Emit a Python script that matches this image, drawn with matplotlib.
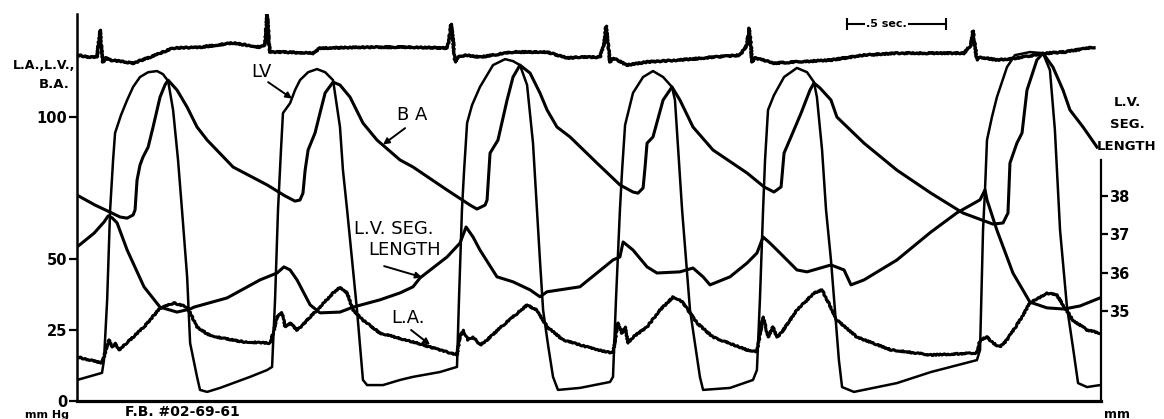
import matplotlib
matplotlib.use("Agg")
import matplotlib.pyplot as plt

# Time axis in seconds from the start of the strip, pressures in mm Hg,
# segment length in mm on the right-hand scale.

ecg_t = [0.000, 0.066, 0.101, 0.111, 0.116, 0.121, 0.131, 0.146, 0.167, 0.283,
         0.369, 0.485, 0.621, 0.788, 0.924, 0.949, 0.960, 0.970, 0.975, 1.040,
         1.192, 1.227, 1.465, 1.697, 1.869, 1.879, 1.889, 1.899, 1.909, 1.924,
         1.970, 2.035, 2.202, 2.374, 2.475, 2.540, 2.641, 2.662, 2.672, 2.682,
         2.692, 2.707, 2.778, 2.879, 3.045, 3.212, 3.348, 3.384, 3.394, 3.404,
         3.409, 3.424, 3.465, 3.520, 3.636, 3.808, 3.975, 4.141, 4.313, 4.480,
         4.515, 4.525, 4.535, 4.545, 4.561, 4.646, 4.747, 4.899, 4.985, 5.136]
ecg_v = [121.8, 121.1, 121.1, 127.1, 130.6, 127.1, 119.4, 120.8, 120.1, 119.0,
         121.1, 124.3, 124.6, 126.1, 124.6, 125.4, 136.3, 125.4, 122.9, 122.9,
         122.5, 124.3, 124.6, 124.6, 124.3, 127.1, 132.7, 127.1, 119.4, 121.1,
         121.8, 121.1, 122.9, 122.9, 120.8, 121.1, 121.1, 125.4, 132.0, 125.4,
         119.4, 120.8, 118.3, 119.4, 120.1, 121.1, 121.8, 125.4, 131.3, 125.4,
         119.4, 120.8, 120.1, 119.0, 119.4, 120.1, 121.8, 122.5, 122.5, 122.5,
         125.4, 130.3, 125.4, 120.1, 121.1, 120.1, 120.8, 122.5, 122.9, 124.6]

# left ventricular pressure
lv_t = [0.000, 0.126, 0.136, 0.152, 0.167, 0.182, 0.192, 0.202, 0.222, 0.253,
        0.283, 0.318, 0.359, 0.404, 0.434, 0.460, 0.485, 0.510, 0.530, 0.556,
        0.571, 0.606, 0.621, 0.657, 0.722, 0.788, 0.874, 0.960, 0.985,
        1.000, 1.015, 1.030, 1.040, 1.076, 1.101, 1.126, 1.167, 1.212, 1.253,
        1.293, 1.328, 1.343, 1.364, 1.389, 1.414, 1.444, 1.465, 1.545, 1.631,
        1.697, 1.833, 1.919,
        1.929, 1.944, 1.955, 1.970, 1.995, 2.035, 2.101, 2.162, 2.202, 2.237,
        2.273, 2.303, 2.323, 2.338, 2.354, 2.379, 2.404, 2.429, 2.540, 2.692,
        2.707,
        2.722, 2.742, 2.753, 2.768, 2.808, 2.859, 2.909, 2.960, 3.005, 3.020,
        3.056, 3.076, 3.096, 3.146, 3.162, 3.298, 3.414, 3.434,
        3.449, 3.465, 3.475, 3.490, 3.520, 3.571, 3.636, 3.687, 3.722, 3.737,
        3.763, 3.783, 3.808, 3.848, 3.864, 3.924, 4.141, 4.313, 4.545,
        4.561, 4.576, 4.586, 4.596, 4.621, 4.646, 4.697, 4.737, 4.813, 4.879,
        4.914, 4.939, 4.965, 5.000, 5.030, 5.056, 5.101, 5.167]
lv_p = [7.4, 9.9, 14.4, 35.6, 67.3, 84.9, 94.4, 96.5, 100.7, 106.0,
        110.6, 114.1, 115.8, 116.2, 115.1, 112.7, 102.5, 84.9, 67.3, 43.7,
        20.4, 8.5, 3.9, 3.2, 4.6, 6.3, 8.5, 10.9, 12.0,
        35.6, 67.3, 88.4, 101.4, 104.9, 109.5, 113.0, 115.8, 116.9, 115.8,
        113.0, 96.5, 81.3, 67.3, 49.6, 32.0, 7.4, 5.6, 5.6, 7.4,
        8.5, 10.2, 12.0,
        35.6, 67.3, 81.3, 97.9, 104.2, 110.6, 118.3, 120.4, 119.7, 118.3,
        111.3, 90.8, 67.3, 49.6, 32.0, 19.7, 8.5, 3.9, 4.6, 6.7,
        8.5,
        35.6, 67.3, 81.3, 97.2, 108.5, 114.1, 116.2, 114.1, 110.6, 106.0,
        67.3, 49.6, 32.0, 8.5, 3.9, 4.6, 7.4, 10.9,
        35.6, 67.3, 84.9, 102.5, 107.7, 114.1, 117.3, 115.8, 112.3, 107.0,
        88.4, 67.3, 49.6, 14.4, 4.9, 3.2, 6.3, 10.2, 14.4,
        18.0, 60.2, 74.3, 91.9, 100.0, 107.0, 117.6, 121.8, 122.9, 122.5,
        116.5, 95.4, 60.2, 33.1, 19.0, 6.3, 4.9, 5.6]

# brachial artery pressure
ba_t = [0.000, 0.091, 0.167, 0.217, 0.253, 0.283, 0.293, 0.303, 0.318, 0.333,
        0.359, 0.384, 0.419, 0.444, 0.460, 0.505, 0.556, 0.606, 0.657, 0.788,
        0.960, 1.051, 1.101,
        1.126, 1.141, 1.152, 1.167, 1.202, 1.227, 1.253, 1.293, 1.328, 1.379,
        1.444, 1.515, 1.631, 1.697, 1.869, 1.985, 2.020,
        2.061, 2.071, 2.086, 2.126, 2.172, 2.202, 2.237, 2.288, 2.338, 2.374,
        2.424, 2.490, 2.626, 2.742, 2.808, 2.833,
        2.859, 2.869, 2.879, 2.909, 2.960, 3.005, 3.045, 3.111, 3.212, 3.384,
        3.470, 3.520,
        3.556, 3.571, 3.606, 3.657, 3.702, 3.722, 3.753, 3.808, 3.838, 3.975,
        4.141, 4.313, 4.475, 4.626, 4.677,
        4.702, 4.712, 4.747, 4.773, 4.798, 4.848, 4.879, 4.929, 4.980, 5.015,
        5.081, 5.152]
ba_p = [72.5, 69.0, 66.5, 64.8, 64.4, 65.5, 67.3, 77.8, 83.1, 85.9,
        89.4, 96.5, 107.0, 111.3, 113.0, 109.5, 103.5, 96.5, 91.9, 82.4,
        76.1, 72.2, 70.4,
        70.8, 73.2, 81.3, 88.4, 94.4, 101.4, 108.5, 112.3, 111.3, 107.0,
        97.9, 91.9, 84.9, 82.4, 74.3, 69.0, 67.6,
        69.0, 70.8, 87.3, 91.9, 106.0, 114.1, 118.3, 115.5, 108.5, 102.5,
        96.5, 93.0, 83.8, 76.1, 73.6, 73.2,
        75.0, 82.4, 90.8, 93.0, 106.0, 110.6, 106.0, 96.5, 88.4, 80.3,
        75.4, 73.6,
        75.4, 87.3, 93.0, 101.4, 109.5, 112.0, 110.2, 106.0, 100.0, 90.8,
        81.3, 73.2, 66.2, 62.3, 62.7,
        66.2, 83.8, 90.8, 94.4, 109.5, 120.1, 122.5, 117.6, 109.5, 102.5,
        96.5, 89.4]

# left atrial pressure
la_t = [0.000, 0.066, 0.126, 0.136, 0.152, 0.162, 0.177, 0.192, 0.212, 0.227,
        0.268, 0.338, 0.419, 0.490, 0.556, 0.606, 0.657, 0.707, 0.843, 0.975,
        0.995, 1.010, 1.035, 1.051, 1.076, 1.111, 1.141, 1.177, 1.212, 1.293,
        1.328, 1.364, 1.394, 1.444, 1.530, 1.697, 1.919, 1.934, 1.949, 1.975,
        2.000, 2.035, 2.071, 2.136, 2.202, 2.273, 2.323, 2.374, 2.455, 2.626,
        2.707, 2.732, 2.753, 2.768, 2.783, 2.808, 2.879, 2.944, 3.010, 3.045,
        3.061, 3.131, 3.212, 3.384, 3.434, 3.449, 3.465, 3.490, 3.515, 3.535,
        3.556, 3.636, 3.722, 3.763, 3.788, 3.838, 3.939, 4.111, 4.313, 4.545,
        4.561, 4.596, 4.626, 4.662, 4.697, 4.763, 4.813, 4.899, 4.949, 4.980,
        5.030, 5.101, 5.167]
la_p = [15.5, 14.4, 13.4, 15.5, 19.7, 21.5, 19.0, 20.4, 18.0, 19.0,
        21.5, 26.1, 32.7, 34.5, 33.1, 26.1, 23.6, 22.5, 20.8, 20.4,
        25.0, 29.6, 31.0, 26.1, 27.5, 25.0, 26.8, 29.6, 32.0, 38.0,
        40.1, 38.0, 32.0, 28.5, 23.9, 20.8, 16.2, 22.5, 25.0, 21.5,
        22.5, 19.7, 21.5, 25.7, 29.6, 33.8, 32.0, 26.1, 21.5, 18.0,
        16.9, 27.5, 23.9, 26.1, 20.4, 22.5, 26.1, 32.0, 36.6, 35.6,
        34.5, 27.5, 22.5, 18.0, 17.3, 23.2, 29.6, 22.5, 26.1, 22.5,
        23.9, 32.0, 38.0, 39.1, 35.6, 28.5, 22.5, 18.0, 16.2, 16.9,
        21.5, 22.5, 20.4, 19.0, 21.5, 28.5, 34.5, 38.0, 37.3, 33.8,
        28.5, 25.0, 23.9]

# LV segment length (mm)
seg_t = [0.000, 0.086, 0.136, 0.157, 0.177, 0.202, 0.253, 0.338, 0.419, 0.505,
         0.571, 0.591, 0.758, 0.924, 1.010, 1.045, 1.076, 1.111, 1.177, 1.227,
         1.328, 1.394, 1.530, 1.631, 1.697, 1.732, 1.869, 1.934, 1.965, 2.000,
         2.035, 2.121, 2.202, 2.288, 2.338, 2.374, 2.540, 2.707, 2.742, 2.758,
         2.808, 2.879, 2.929, 3.045, 3.111, 3.162, 3.197, 3.298, 3.384, 3.434,
         3.465, 3.500, 3.551, 3.636, 3.687, 3.808, 3.874, 3.909, 3.975, 4.141,
         4.313, 4.444, 4.561, 4.586, 4.596, 4.646, 4.727, 4.813, 4.899, 4.985,
         5.066, 5.167]
seg_mm = [36.67, 37.03, 37.32, 37.48, 37.43, 37.30, 36.59, 35.63, 35.10, 34.97,
          35.05, 35.10, 35.34, 35.81, 35.99, 36.15, 36.07, 35.81, 35.16, 34.95,
          34.97, 35.10, 35.29, 35.47, 35.63, 35.86, 36.41, 36.77, 37.19, 36.93,
          36.59, 35.89, 35.76, 35.55, 35.37, 35.50, 35.63, 36.33, 36.41, 36.80,
          36.59, 36.15, 35.99, 36.02, 36.12, 35.89, 35.68, 35.89, 36.25, 36.51,
          36.93, 36.77, 36.51, 36.07, 36.02, 36.20, 36.07, 35.68, 35.81, 36.33,
          37.06, 37.56, 37.90, 38.16, 37.90, 37.11, 35.99, 35.23, 35.08, 35.05,
          35.13, 35.34]

pressure_ticks = [0, 25, 50, 100]
seg_ticks = [35, 36, 37, 38]

PEN = "black"
plt.rcParams["font.family"] = "DejaVu Sans"

fig = plt.figure(figsize=(11.64, 4.19), dpi=100)
ax = fig.add_axes([0.0662, 0.0430, 0.8797, 0.9236])
ax.set_xlim(0, 5.172)
ax.set_ylim(0, 136.3)

seg_ax = ax.twinx()
seg_ax.set_ylim(32.65, 42.75)

ecg_line, = ax.plot(ecg_t, ecg_v, color=PEN, lw=2.4, solid_joinstyle="round")
ax.plot(lv_t, lv_p, color=PEN, lw=1.8, solid_joinstyle="round")
ax.plot(ba_t, ba_p, color=PEN, lw=2.2, solid_joinstyle="round")
la_line, = ax.plot(la_t, la_p, color=PEN, lw=2.2, solid_joinstyle="round")
seg_ax.plot(seg_t, seg_mm, color=PEN, lw=2.2, solid_joinstyle="round")
for ln in (ecg_line, la_line):
    ln.set_sketch_params(scale=0.6, length=4, randomness=3)

# axes frame: open top, short right-hand scale
for s in ("top", "right"):
    ax.spines[s].set_visible(False)
ax.spines["left"].set_linewidth(1.8)
ax.spines["bottom"].set_linewidth(2.3)
for s in ("top", "left", "bottom"):
    seg_ax.spines[s].set_visible(False)
seg_ax.spines["right"].set_bounds(32.65, 38.94)
seg_ax.spines["right"].set_linewidth(1.6)

ax.set_xticks([])
ax.set_yticks(pressure_ticks)
ax.tick_params(axis="y", direction="out", length=6, width=1.6, pad=1, labelsize=10.5)
seg_ax.set_yticks(seg_ticks)
seg_ax.tick_params(axis="y", direction="out", length=5, width=1.6, pad=0.5, labelsize=10.5)
for lab in ax.get_yticklabels() + seg_ax.get_yticklabels():
    lab.set_fontweight("bold")

# trace labels with pointer arrows
arrow_kw = dict(arrowstyle="-|>", color=PEN, lw=1.4, mutation_scale=9,
                shrinkA=0, shrinkB=0)
lab_kw = dict(ha="center", va="center", fontsize=13, color=PEN)

ax.text(0.932, 116.0, "LV", **lab_kw)
ax.annotate("", xy=(1.086, 106.5), xytext=(0.965, 112.3), arrowprops=arrow_kw)

ax.text(1.692, 100.7, "B A", **lab_kw)
ax.annotate("", xy=(1.545, 90.3), xytext=(1.657, 96.1), arrowprops=arrow_kw)

ax.text(1.601, 60.7, "L.V. SEG.", **lab_kw)
ax.text(1.652, 53.2, "LENGTH", **lab_kw)
ax.annotate("", xy=(1.742, 43.6), xytext=(1.551, 47.5), arrowprops=arrow_kw)

ax.text(1.672, 29.2, "L.A.", **lab_kw)
ax.annotate("", xy=(1.783, 19.8), xytext=(1.687, 25.0), arrowprops=arrow_kw)

# time calibration bar
bar_t0, bar_len, bar_y = 3.889, 0.5, 132.7
ax.plot([bar_t0, bar_t0 + bar_len], [bar_y, bar_y], color=PEN, lw=1.5)
ax.plot([bar_t0, bar_t0 + bar_len], [bar_y, bar_y], ls="none", marker="|",
        ms=8, mew=1.5, color=PEN)
ax.text(bar_t0 + 0.2, bar_y, ".5 sec.", ha="center", va="center", fontsize=8,
        fontweight="bold", bbox=dict(fc="white", ec="none", pad=1.0))

# scale captions
bold = dict(fontweight="bold", color=PEN)
fig.text(0.0644, 0.8425, "L.A.,L.V.,", ha="right", va="center", fontsize=9, **bold)
fig.text(0.0601, 0.7995, "B.A.", ha="right", va="center", fontsize=9.5, **bold)
fig.text(0.9682, 0.7542, "L.V.", ha="center", va="center", fontsize=9.5, **bold)
fig.text(0.9682, 0.7017, "SEG.", ha="center", va="center", fontsize=9.5, **bold)
fig.text(0.9682, 0.6492, "LENGTH", ha="center", va="center", fontsize=9.5, **bold)
fig.text(0.0215, 0.0215, "mm Hg", ha="left", va="top", fontsize=8, **bold)
fig.text(0.1074, 0.0335, "F.B. #02-69-61", ha="left", va="top", fontsize=10, **bold)
fig.text(0.9485, 0.0263, "mm", ha="left", va="top", fontsize=9, **bold)

fig.savefig("out.png", dpi=100, facecolor="white")
